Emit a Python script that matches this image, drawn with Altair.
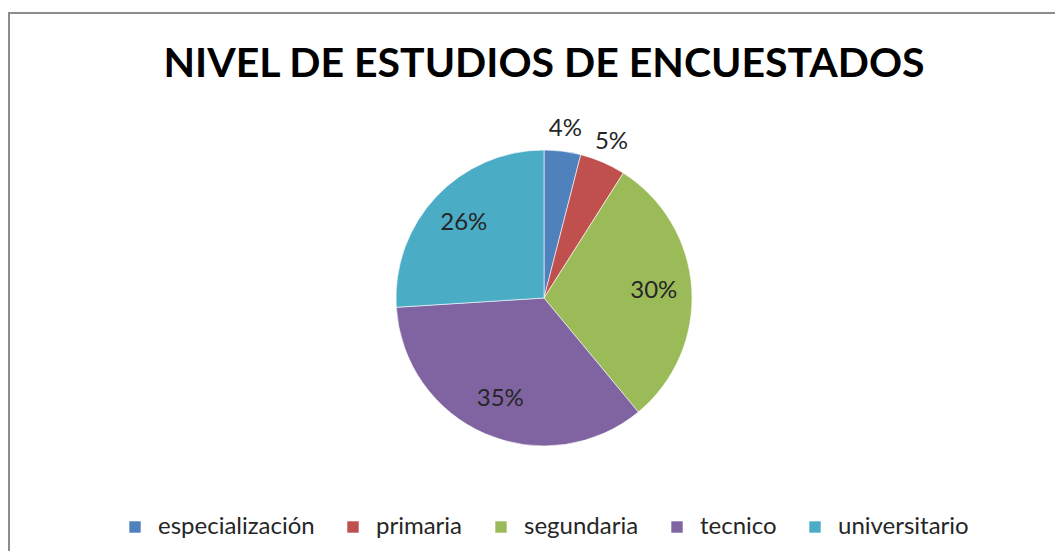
import altair as alt
import pandas as pd

# ---- data ----
categories = ["especialización", "primaria", "segundaria", "tecnico", "universitario"]
percentages = [4, 5, 30, 35, 26]
colors = ["#4F81BD", "#C0504D", "#9BBB59", "#8064A2", "#4BACC6"]
title_text = "NIVEL DE ESTUDIOS DE ENCUESTADOS"

df = pd.DataFrame({
    "nivel": categories,
    "pct": percentages,
    "orden": list(range(len(categories))),
})

W, H = 1047, 543
CX, CY = 536, 290
R = 148
FONT = "Lato"

pie = alt.Chart(df).mark_arc(outerRadius=R, stroke="white", strokeWidth=0.6).encode(
    theta=alt.Theta("pct:Q", stack=True),
    order=alt.Order("orden:Q"),
    x=alt.value(CX),
    y=alt.value(CY),
    color=alt.Color(
        "nivel:N",
        scale=alt.Scale(domain=categories, range=colors),
        legend=alt.Legend(
            orient="none",
            legendX=115,
            legendY=507,
            direction="horizontal",
            title=None,
            symbolType="square",
            symbolSize=130,
            symbolStrokeWidth=0,
            labelFont=FONT,
            labelFontSize=24,
            labelColor="#262626",
            labelOffset=11,
            columnPadding=26,
            padding=0,
            labelLimit=400,
        ),
    ),
)

# labels: mid-angle of each slice computed from the cumulative sum
labels = alt.Chart(df).transform_window(
    cum="sum(pct)", sort=[alt.SortField("orden")]
).transform_joinaggregate(
    total="sum(pct)"
).transform_calculate(
    lbl="datum.pct + '%'",
    ang="2 * PI * (datum.cum - datum.pct / 2) / datum.total",
    rad="datum.pct < 10 ? 170 : 110",
).mark_text(font=FONT, fontSize=24, color="#262626").encode(
    x=alt.value(CX),
    y=alt.value(CY),
    theta=alt.Theta("ang:Q", scale=None),
    radius=alt.Radius("rad:Q", scale=None),
    text="lbl:N",
)

one = alt.Chart(pd.DataFrame({"t": [title_text]}))

title = one.mark_text(font=FONT, fontSize=41, fontWeight="bold", color="black",
                      baseline="alphabetic", align="center").encode(
    x=alt.value(536), y=alt.value(69), text="t:N"
)

border_left = one.mark_rule(color="#8c8c8c", strokeWidth=2).encode(
    x=alt.value(1), y=alt.value(4), y2=alt.value(H + 20)
)
border_top = one.mark_rule(color="#8c8c8c", strokeWidth=2).encode(
    x=alt.value(0), x2=alt.value(W + 20), y=alt.value(5)
)

chart = alt.layer(border_left, border_top, pie, labels, title).resolve_scale(
    theta="independent", radius="independent"
).properties(
    width=W, height=H, autosize="none", padding=0
).configure_view(stroke=None)

chart.save("out.html", embed_options={"renderer": "svg", "actions": False})
